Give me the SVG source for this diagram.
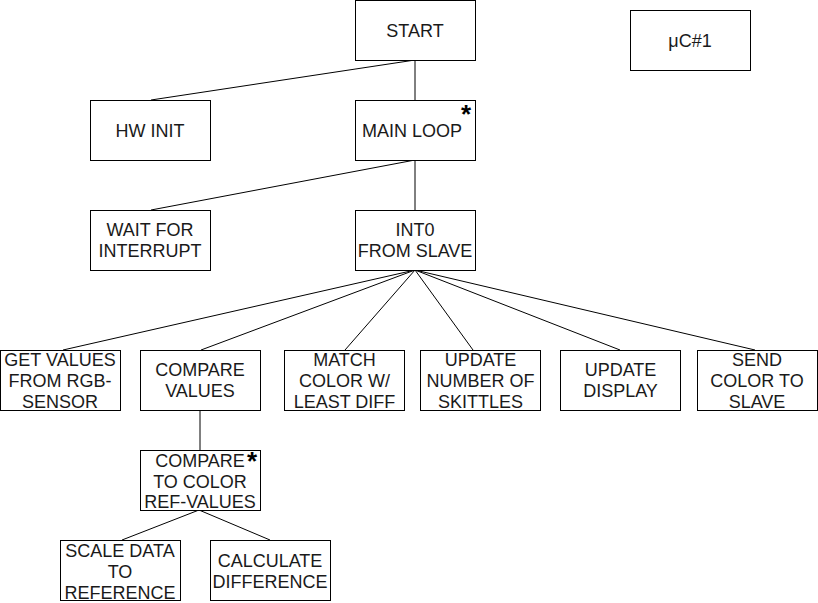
<svg xmlns="http://www.w3.org/2000/svg" width="818" height="603" viewBox="0 0 818 603">
<style>
rect{fill:#fff;stroke:#000;stroke-width:1}
text{font-family:"Liberation Sans",Arial,sans-serif;font-size:18px;fill:#1a1a1a;text-anchor:middle}
.ast{font-size:26px;font-weight:bold;fill:#000}
#connectors line{stroke:#000;stroke-width:1}
</style>
<rect x="0" y="0" width="818" height="603" style="fill:#fff;stroke:none"/>
<g id="connectors">
<line x1="415" y1="60" x2="415" y2="100"/>
<line x1="415" y1="60" x2="151" y2="100"/>
<line x1="415" y1="160" x2="415" y2="210"/>
<line x1="415" y1="160" x2="151" y2="210"/>
<line x1="415" y1="270" x2="63" y2="350"/>
<line x1="415" y1="270" x2="201" y2="350"/>
<line x1="415" y1="270" x2="345" y2="350"/>
<line x1="415" y1="270" x2="473" y2="350"/>
<line x1="415" y1="270" x2="620" y2="350"/>
<line x1="415" y1="270" x2="755" y2="350"/>
<line x1="200" y1="410" x2="200" y2="450"/>
<line x1="199" y1="510" x2="122" y2="540"/>
<line x1="199" y1="510" x2="270" y2="540"/>
</g>
<g id="start"><rect x="355.5" y="0.5" width="120" height="60"/><text x="415" y="36.5">START</text></g>
<g id="uc1"><rect x="630.5" y="10.5" width="120" height="60"/><text x="690" y="46.5">μC#1</text></g>
<g id="hwinit"><rect x="90.5" y="100.5" width="120" height="60"/><text x="150" y="136.5">HW INIT</text></g>
<g id="mainloop"><rect x="355.5" y="100.5" width="120" height="60"/><text x="412" y="136.5">MAIN LOOP</text><text class="ast" x="466" y="123">*</text></g>
<g id="wait"><rect x="90.5" y="210.5" width="120" height="60"/><text x="150" y="235.5">WAIT FOR</text><text x="150" y="256.5">INTERRUPT</text></g>
<g id="int0"><rect x="355.5" y="210.5" width="120" height="60"/><text x="415" y="235.5">INT0</text><text x="415" y="256.5">FROM SLAVE</text></g>
<g id="getvalues"><rect x="0.5" y="350.5" width="120" height="60"/><text x="60" y="366">GET VALUES</text><text x="60" y="387">FROM RGB-</text><text x="60" y="408">SENSOR</text></g>
<g id="comparevalues"><rect x="140.5" y="350.5" width="120" height="60"/><text x="200" y="376">COMPARE</text><text x="200" y="397">VALUES</text></g>
<g id="match"><rect x="284.5" y="350.5" width="120" height="60"/><text x="344.5" y="366">MATCH</text><text x="344.5" y="387">COLOR W/</text><text x="344.5" y="408">LEAST DIFF</text></g>
<g id="updatenumber"><rect x="420.5" y="350.5" width="120" height="60"/><text x="480.5" y="366">UPDATE</text><text x="480.5" y="387">NUMBER OF</text><text x="480.5" y="408">SKITTLES</text></g>
<g id="updatedisplay"><rect x="560.5" y="350.5" width="120" height="60"/><text x="620.5" y="376">UPDATE</text><text x="620.5" y="397">DISPLAY</text></g>
<g id="sendcolor"><rect x="697.5" y="350.5" width="120" height="60"/><text x="757" y="366">SEND</text><text x="757" y="387">COLOR TO</text><text x="757" y="408">SLAVE</text></g>
<g id="comparetocolor"><rect x="140.5" y="450.5" width="120" height="60"/><text x="200" y="466.5">COMPARE</text><text x="200" y="487.5">TO COLOR</text><text x="200" y="508">REF-VALUES</text><text class="ast" x="252" y="470">*</text></g>
<g id="scaledata"><rect x="60.5" y="540.5" width="120" height="60"/><text x="120" y="556.5">SCALE DATA</text><text x="120" y="577.5">TO</text><text x="120" y="598.5">REFERENCE</text></g>
<g id="calcdiff"><rect x="210.5" y="540.5" width="120" height="60"/><text x="270" y="566.5">CALCULATE</text><text x="270" y="587.5">DIFFERENCE</text></g>
</svg>
